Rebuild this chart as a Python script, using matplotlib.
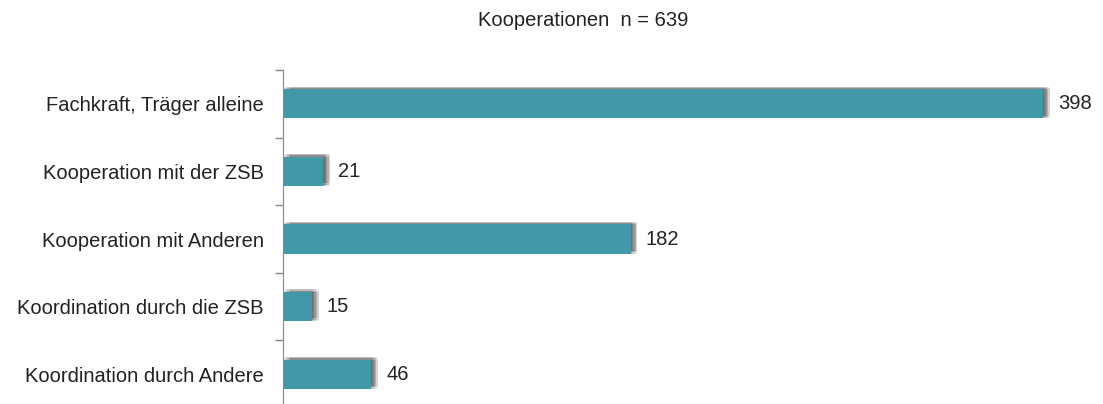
import matplotlib.pyplot as plt
import matplotlib.patheffects as pe

categories = ['Fachkraft, Träger alleine', 'Kooperation mit der ZSB',
              'Kooperation mit Anderen', 'Koordination durch die ZSB',
              'Koordination durch Andere']
counts = [398, 21, 182, 15, 46]
title = 'Kooperationen  n = 639'

plt.rcParams['font.family'] = ['Liberation Sans', 'DejaVu Sans']

fig = plt.figure(figsize=(11.03, 4.04), dpi=100)
ax = fig.add_axes([0.2566, -0.0099, 0.727, 0.8366])

# soft blurred shadow, built from a few faint offset copies
shadow = []
for dx in [1, 2, 3, 4, 5]:
    for dy in [0, 1, 2]:
        shadow.append(pe.SimplePatchShadow(offset=(dx, dy), shadow_rgbFace='#3a3a3a', alpha=0.08))
shadow.append(pe.Normal())

ypos = list(range(len(categories)))
bars = ax.barh(ypos, counts, height=0.43, color='#4398a8', path_effects=shadow)

for y, v in zip(ypos, counts):
    ax.text(v + 8, y, str(v), va='center', ha='left', fontsize=14.5, color='#222222')

ax.set_xlim(0, 420)
ax.set_ylim(len(categories) - 0.5, -0.5)
ax.set_yticks(ypos)
ax.set_yticklabels(categories, fontsize=14.5, color='#222222')
ax.set_yticks([i - 0.5 for i in range(len(categories) + 1)], minor=True)
ax.tick_params(axis='y', which='major', length=0, pad=14)
ax.tick_params(axis='y', which='minor', length=6, color='#888888', width=1)
ax.set_xticks([])
for s in ['top', 'right', 'bottom']:
    ax.spines[s].set_visible(False)
ax.spines['left'].set_color('#888888')

fig.text(0.529, 0.95, title, ha='center', va='center', fontsize=14.5, color='#222222')

fig.savefig('out.png', dpi=100)
